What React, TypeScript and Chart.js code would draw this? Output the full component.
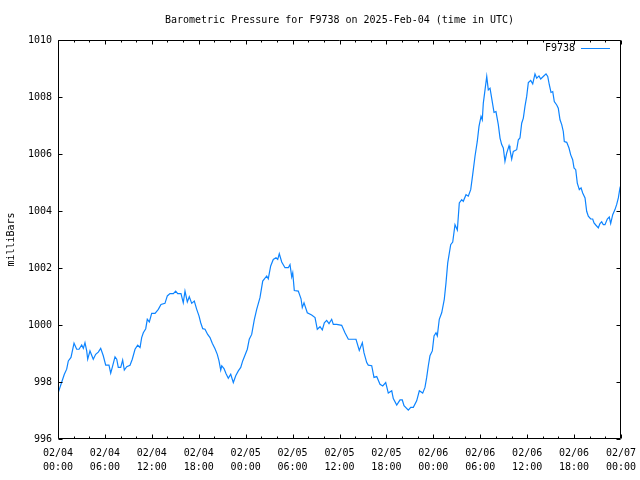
import React, { useEffect, useRef } from 'react';
import { Chart, registerables } from 'chart.js';

Chart.register(...registerables);

// Hours since 2025-02-04 00:00 UTC
const hours = [
  0, 0.47, 0.81, 1.11, 1.32, 1.66, 2.05, 2.39, 2.69, 3.03, 3.24, 3.45, 3.67, 3.8, 4.09, 4.51, 4.82, 5.15, 5.46, 5.79,
  6.1, 6.52, 6.74, 6.94, 7.29, 7.51, 7.71, 8.02, 8.27, 8.48, 8.79, 9.21, 9.5, 9.85, 10.19, 10.49, 10.7, 10.91, 11.22, 11.42,
  11.68, 11.98, 12.41, 12.83, 13.17, 13.68, 13.98, 14.32, 14.75, 15.05, 15.31, 15.73, 16.02, 16.24, 16.54, 16.79, 17.1, 17.43, 17.74, 18.03,
  18.25, 18.51, 18.8, 19.14, 19.44, 19.73, 20.08, 20.37, 20.59, 20.81, 20.94, 21.23, 21.48, 21.78, 22.09, 22.42, 22.73, 23.06, 23.37, 23.62,
  23.91, 24.21, 24.46, 24.77, 25.1, 25.41, 25.83, 26.18, 26.69, 26.89, 27.2, 27.53, 27.88, 28.1, 28.3, 28.61, 29.03, 29.45, 29.67, 29.89,
  30.02, 30.22, 30.73, 31.08, 31.24, 31.46, 31.88, 32.44, 32.87, 33.16, 33.51, 33.8, 34.06, 34.36, 34.66, 35.0, 35.21, 35.64, 36.28, 36.7,
  37.13, 38.11, 38.53, 38.92, 39.13, 39.48, 39.68, 40.12, 40.41, 40.76, 41.18, 41.53, 41.91, 42.24, 42.68, 42.88, 43.32, 43.74, 44.03, 44.25,
  44.8, 45.11, 45.44, 45.87, 46.21, 46.64, 46.93, 47.15, 47.36, 47.57, 47.87, 48.09, 48.34, 48.51, 48.76, 49.07, 49.4, 49.62, 49.84, 50.22,
  50.48, 50.77, 51.07, 51.32, 51.63, 51.83, 52.18, 52.47, 52.78, 53.03, 53.33, 53.62, 53.84, 54.1, 54.26, 54.39, 54.61, 54.83, 55.03, 55.25,
  55.46, 55.76, 56.01, 56.31, 56.53, 56.74, 56.95, 57.16, 57.38, 57.68, 57.8, 58.02, 58.23, 58.66, 58.87, 59.08, 59.3, 59.51, 59.72, 59.94,
  60.15, 60.45, 60.71, 61.0, 61.22, 61.51, 61.73, 62.06, 62.41, 62.63, 62.83, 63.05, 63.27, 63.47, 63.78, 63.98, 64.2, 64.42, 64.62, 64.75,
  65.06, 65.35, 65.57, 65.82, 65.99, 66.21, 66.41, 66.67, 66.89, 67.1, 67.4, 67.61, 67.82, 68.12, 68.38, 68.55, 68.8, 69.1, 69.31, 69.53,
  69.74, 69.95, 70.25, 70.5, 70.68, 70.94, 71.23, 71.45, 71.66, 71.87, 72.0,
];

// Barometric pressure, milliBars
const pressure = [
  997.6, 997.99, 998.27, 998.45, 998.74, 998.86, 999.36, 999.15, 999.15, 999.3, 999.18, 999.38, 999.09, 998.8, 999.09, 998.8, 998.97, 999.05, 999.18, 998.92,
  998.59, 998.59, 998.31, 998.51, 998.88, 998.8, 998.51, 998.51, 998.77, 998.42, 998.54, 998.59, 998.8, 999.15, 999.29, 999.21, 999.56, 999.73, 999.87, 1000.2,
  1000.11, 1000.41, 1000.41, 1000.55, 1000.72, 1000.76, 1001.02, 1001.1, 1001.1, 1001.19, 1001.1, 1001.1, 1000.78, 1001.19, 1000.81, 1000.99, 1000.76, 1000.84, 1000.55, 1000.32,
  1000.08, 999.87, 999.85, 999.67, 999.56, 999.36, 999.17, 998.97, 998.74, 998.42, 998.57, 998.47, 998.3, 998.13, 998.27, 997.98, 998.22, 998.39, 998.51, 998.74,
  998.94, 999.15, 999.5, 999.67, 1000.18, 1000.55, 1000.96, 1001.54, 1001.72, 1001.62, 1002.07, 1002.3, 1002.36, 1002.3, 1002.5, 1002.21, 1002.01, 1002.01, 1002.12, 1001.69,
  1001.83, 1001.21, 1001.19, 1000.92, 1000.61, 1000.78, 1000.43, 1000.35, 1000.26, 999.85, 999.94, 999.83, 1000.08, 1000.16, 1000.05, 1000.2, 1000.02, 1000.02, 999.99, 999.73,
  999.5, 999.5, 999.11, 999.38, 999.03, 998.68, 998.59, 998.57, 998.16, 998.19, 997.92, 997.86, 997.98, 997.61, 997.69, 997.42, 997.19, 997.37, 997.37, 997.17,
  997.01, 997.11, 997.11, 997.34, 997.69, 997.61, 997.81, 998.16, 998.57, 998.92, 999.09, 999.62, 999.73, 999.62, 1000.2, 1000.43, 1000.9, 1001.48, 1002.18, 1002.82,
  1002.91, 1003.52, 1003.33, 1004.28, 1004.4, 1004.34, 1004.57, 1004.52, 1004.75, 1005.27, 1005.92, 1006.44, 1006.97, 1007.32, 1007.2, 1007.78, 1008.25, 1008.72, 1008.25, 1008.31,
  1007.96, 1007.46, 1007.49, 1007.03, 1006.56, 1006.33, 1006.21, 1005.74, 1006.03, 1006.29, 1006.15, 1005.82, 1006.09, 1006.15, 1006.5, 1006.56, 1007.08, 1007.26, 1007.67, 1008.02,
  1008.51, 1008.58, 1008.46, 1008.81, 1008.66, 1008.74, 1008.63, 1008.72, 1008.81, 1008.72, 1008.43, 1008.16, 1008.19, 1007.84, 1007.72, 1007.61, 1007.2, 1007.03, 1006.79, 1006.44,
  1006.41, 1006.21, 1005.97, 1005.8, 1005.51, 1005.45, 1004.98, 1004.75, 1004.81, 1004.63, 1004.46, 1003.99, 1003.82, 1003.72, 1003.72, 1003.58, 1003.5, 1003.41, 1003.56, 1003.62,
  1003.52, 1003.52, 1003.72, 1003.79, 1003.56, 1003.87, 1004.05, 1004.23, 1004.46, 1004.81, 1004.92,
];

const tickHours = [0, 6, 12, 18, 24, 30, 36, 42, 48, 54, 60, 66, 72];
const tickDates = ['02/04', '02/04', '02/04', '02/04', '02/05', '02/05', '02/05', '02/05', '02/06', '02/06', '02/06', '02/06', '02/07'];
const tickTimes = ['00:00', '06:00', '12:00', '18:00', '00:00', '06:00', '12:00', '18:00', '00:00', '06:00', '12:00', '18:00', '00:00'];
const minorTickHours = [2, 4, 8, 10, 14, 16, 20, 22, 26, 28, 32, 34, 38, 40, 44, 46, 50, 52, 56, 58, 62, 64, 68, 70];
const yTicks = [996, 998, 1000, 1002, 1004, 1006, 1008, 1010];

const seriesName = 'F9738';
const titleText = 'Barometric Pressure for F9738 on 2025-Feb-04 (time in UTC)';
const yTitle = 'milliBars';
const lineColor = '#0d84ff';
const FONT = "'DejaVu Sans Mono', 'Liberation Mono', monospace";

const framePlugin = {
  id: 'gnuFrame',
  afterDatasetsDraw(chart: any) {
    const { ctx, chartArea } = chart;
    const { left, right, top, bottom } = chartArea;
    const xs = chart.scales.x;
    const ys = chart.scales.y;
    ctx.save();

    // title, centred over the plot area
    ctx.font = `10px ${FONT}`;
    ctx.fillStyle = '#000';
    ctx.textAlign = 'center';
    ctx.textBaseline = 'middle';
    ctx.fillText(titleText, (left + right) / 2, 20);

    ctx.strokeStyle = '#000';
    ctx.lineWidth = 1;
    ctx.beginPath();
    const L = Math.round(left) + 0.5;
    const R = Math.round(right) - 0.5;
    const T = Math.round(top) + 0.5;
    const B = Math.round(bottom) - 0.5;
    ctx.rect(L, T, R - L, B - T);
    const vTick = (h: number, len: number) => {
      const px = Math.round(xs.getPixelForValue(h)) + 0.5;
      ctx.moveTo(px, B);
      ctx.lineTo(px, B - len);
      ctx.moveTo(px, T);
      ctx.lineTo(px, T + len);
    };
    tickHours.forEach((h) => vTick(h, 4));
    minorTickHours.forEach((h) => vTick(h, 2));
    yTicks.forEach((v) => {
      const py = Math.round(ys.getPixelForValue(v)) + 0.5;
      ctx.moveTo(L, py);
      ctx.lineTo(L + 4, py);
      ctx.moveTo(R, py);
      ctx.lineTo(R - 4, py);
    });
    ctx.stroke();

    // key (legend) in the top-right corner of the plot
    const ds = chart.data.datasets[0];
    ctx.textAlign = 'right';
    ctx.fillText(ds.label, right - 46, 48);
    ctx.beginPath();
    ctx.strokeStyle = ds.borderColor;
    ctx.moveTo(right - 40, 48.5);
    ctx.lineTo(right - 11, 48.5);
    ctx.stroke();
    ctx.restore();
  },
};

export default function App() {
  const ref = useRef<HTMLCanvasElement>(null);

  useEffect(() => {
    if (!ref.current) return;
    const points = hours.map((h, i) => ({ x: h, y: pressure[i] }));
    const chart = new Chart(ref.current, {
      type: 'line',
      data: {
        datasets: [
          {
            label: seriesName,
            data: points,
            borderColor: lineColor,
            backgroundColor: lineColor,
            borderWidth: 1.2,
            pointRadius: 0,
            tension: 0,
            fill: false,
          },
        ],
      },
      options: {
        animation: false,
        responsive: false,
        devicePixelRatio: 1,
        layout: { padding: { left: 0, right: 19, top: 40, bottom: 0 } },
        plugins: {
          legend: { display: false },
          tooltip: { enabled: false },
          title: { display: false },
        },
        scales: {
          x: {
            type: 'linear',
            min: 0,
            max: 72,
            afterBuildTicks: (scale: any) => {
              scale.ticks = tickHours.map((v) => ({ value: v }));
            },
            afterFit: (scale: any) => {
              scale.height = 41;
              scale.paddingLeft = 0;
              scale.paddingRight = 0;
            },
            grid: { display: false, drawTicks: false },
            border: { display: false },
            ticks: {
              autoSkip: false,
              maxRotation: 0,
              minRotation: 0,
              padding: 7,
              color: '#000',
              font: { family: FONT, size: 10, lineHeight: 1.4 },
              callback: (_v: any, i: number) => [tickDates[i], tickTimes[i]],
            },
          },
          y: {
            type: 'linear',
            min: 996,
            max: 1010,
            afterBuildTicks: (scale: any) => {
              scale.ticks = yTicks.map((v) => ({ value: v }));
            },
            afterFit: (scale: any) => {
              scale.width = 58;
              scale.paddingTop = 0;
              scale.paddingBottom = 0;
            },
            grid: { display: false, drawTicks: false },
            border: { display: false },
            ticks: {
              padding: 6,
              color: '#000',
              font: { family: FONT, size: 10 },
              callback: (v: any) => String(v),
            },
            title: {
              display: true,
              text: yTitle,
              color: '#000',
              font: { family: FONT, size: 10, lineHeight: 1.2 },
              padding: { top: 5, bottom: 0 },
            },
          },
        },
      },
      plugins: [framePlugin],
    });
    return () => chart.destroy();
  }, []);

  return (
    <div style={{ position: 'absolute', left: 0, top: 0, width: 640, height: 480, background: '#fff' }}>
      <canvas ref={ref} width={640} height={480} style={{ display: 'block' }} />
    </div>
  );
}
